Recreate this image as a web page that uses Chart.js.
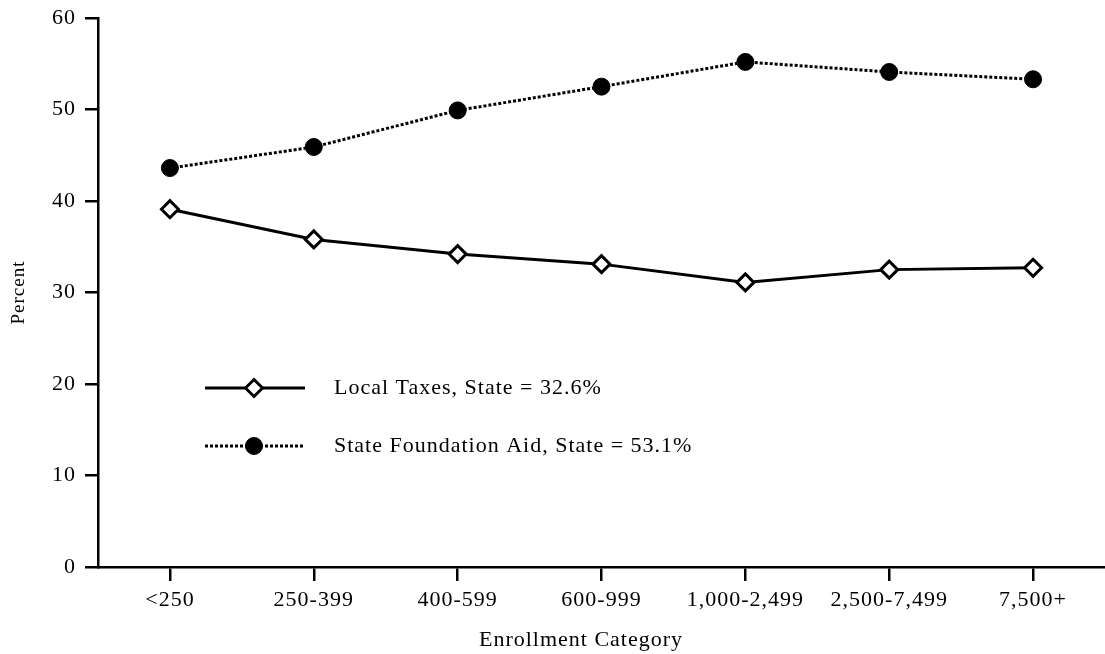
<!DOCTYPE html>
<html>
<head>
<meta charset="utf-8">
<script src="https://cdn.jsdelivr.net/npm/chart.js@4/dist/chart.umd.min.js"></script>
<style>
  html, body { margin: 0; padding: 0; background: #fff; overflow: hidden; }
  #wrap { position: relative; width: 1105px; height: 654px; }
</style>
</head>
<body>
<div id="wrap"><canvas id="enrollChart"></canvas></div>
<script>
// Enrollment categories and revenue share (percent)
const categories = ['<250', '250-399', '400-599', '600-999', '1,000-2,499', '2,500-7,499', '7,500+'];
const localTaxes = [39.1, 35.8, 34.2, 33.1, 31.1, 32.5, 32.7];
const foundationAid = [43.6, 45.9, 49.9, 52.5, 55.2, 54.1, 53.3];
const seriesNames = ['Local Taxes, State = 32.6%', 'State Foundation Aid, State = 53.1%'];
const yTicks = [0, 10, 20, 30, 40, 50, 60];

const SERIF = '"Liberation Serif", "Times New Roman", serif';

// the original typesetting is a bit loose, so space the letters out
const spacing = {
    id: 'spacing',
    beforeUpdate(chart) { chart.ctx.letterSpacing = '1px'; },
    beforeDraw(chart) { chart.ctx.letterSpacing = '1px'; }
};

// legend drawn inside the plot, plus the x axis title (sits left of centre in the original)
const insideLegend = {
    id: 'insideLegend',
    afterDraw(chart) {
        const c = chart.ctx;
        const rows = [
            { y: 388, ds: chart.data.datasets[0] },
            { y: 446, ds: chart.data.datasets[1] }
        ];
        c.save();
        rows.forEach(r => {
            c.strokeStyle = '#000';
            c.lineWidth = r.ds.borderWidth;
            c.setLineDash(r.ds.borderDash || []);
            c.beginPath();
            c.moveTo(205, r.y);
            c.lineTo(305, r.y);
            c.stroke();
            c.setLineDash([]);
            c.fillStyle = r.ds.pointBackgroundColor;
            c.strokeStyle = '#000';
            c.lineWidth = r.ds.pointBorderWidth;
            Chart.helpers.drawPoint(c, {
                pointStyle: r.ds.pointStyle,
                radius: r.ds.pointRadius,
                borderWidth: r.ds.pointBorderWidth
            }, 254, r.y);
            c.fillStyle = '#000';
            c.font = '22px ' + SERIF;
            c.textBaseline = 'middle';
            c.textAlign = 'left';
            c.fillText(r.ds.label, 334, r.y);
        });
        c.font = '22px ' + SERIF;
        c.textAlign = 'center';
        c.textBaseline = 'middle';
        c.fillText('Enrollment Category', 581, 640);
        c.restore();
    }
};

const ctx = document.getElementById('enrollChart');
new Chart(ctx, {
    type: 'line',
    data: {
        labels: categories,
        datasets: [
            {
                label: seriesNames[0],
                data: localTaxes,
                borderColor: '#000',
                borderWidth: 3,
                pointStyle: 'rectRot',
                pointRadius: 8.5,
                pointBorderWidth: 3,
                pointBackgroundColor: '#fff',
                pointBorderColor: '#000',
                tension: 0
            },
            {
                label: seriesNames[1],
                data: foundationAid,
                borderColor: '#000',
                borderWidth: 3,
                borderDash: [3, 2],
                pointStyle: 'circle',
                pointRadius: 8.5,
                pointBorderWidth: 1,
                pointBackgroundColor: '#000',
                pointBorderColor: '#000',
                tension: 0
            }
        ]
    },
    options: {
        responsive: true,
        maintainAspectRatio: false,
        animation: false,
        layout: {
            autoPadding: false,
            padding: { top: 18, right: 0, left: 0, bottom: 0 }
        },
        plugins: {
            legend: { display: false },
            tooltip: { enabled: false }
        },
        scales: {
            x: {
                offset: true,
                grid: {
                    offset: false,
                    drawOnChartArea: false,
                    drawTicks: true,
                    tickLength: 14,
                    color: '#000',
                    lineWidth: 2.5
                },
                border: { display: true, color: '#000', width: 2.5 },
                ticks: {
                    color: '#000',
                    padding: 6,
                    maxRotation: 0,
                    autoSkip: false,
                    font: { family: SERIF, size: 22 }
                },
                afterFit(scale) {
                    scale.height = 87;
                    scale.paddingLeft = 0;
                    scale.paddingRight = 0;
                }
            },
            y: {
                min: 0,
                max: 60,
                afterBuildTicks(scale) {
                    scale.ticks = yTicks.map(v => ({ value: v }));
                },
                grid: {
                    drawOnChartArea: false,
                    drawTicks: true,
                    tickLength: 13,
                    color: '#000',
                    lineWidth: 2.5
                },
                border: { display: true, color: '#000', width: 2.5 },
                ticks: {
                    color: '#000',
                    padding: 9,
                    font: { family: SERIF, size: 22 }
                },
                title: {
                    display: true,
                    text: 'Percent',
                    color: '#000',
                    padding: { top: 8, bottom: 0 },
                    font: { family: SERIF, size: 19 }
                },
                afterFit(scale) {
                    scale.width = 98;
                    scale.paddingTop = 0;
                    scale.paddingBottom = 0;
                }
            }
        }
    },
    plugins: [spacing, insideLegend]
});
</script>
</body>
</html>
